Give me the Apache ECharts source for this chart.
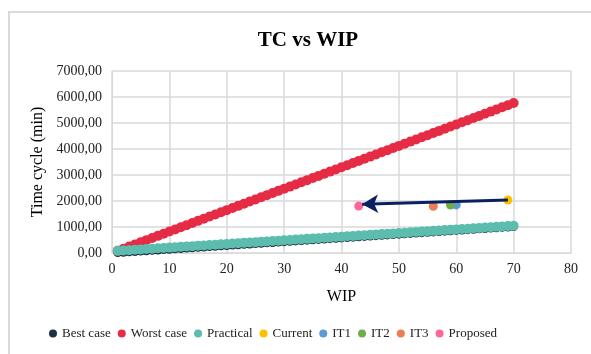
<!DOCTYPE html>
<html lang="en" style="height: 100%">

<head>
  <meta charset="utf-8">
</head>

<body style="height: 100%; margin: 0; background: #fff">
  <div id="frame" style="position:absolute;left:8px;top:11px;width:640px;height:400px;border:2px solid #d9d9d9;"></div>
  <div id="container" style="position:absolute;left:0;top:0;width:591px;height:354px"></div>

  <script type="text/javascript" src="https://fastly.jsdelivr.net/npm/echarts@6.0.0/dist/echarts.min.js"></script>
  <script type="text/javascript">
    // WIP levels 1..70
    var wip = [1, 2, 3, 4, 5, 6, 7, 8, 9, 10, 11, 12, 13, 14, 15, 16, 17, 18, 19, 20,
      21, 22, 23, 24, 25, 26, 27, 28, 29, 30, 31, 32, 33, 34, 35, 36, 37, 38, 39, 40,
      41, 42, 43, 44, 45, 46, 47, 48, 49, 50, 51, 52, 53, 54, 55, 56, 57, 58, 59, 60,
      61, 62, 63, 64, 65, 66, 67, 68, 69, 70];

    var bestCase = [15, 29, 44, 58, 73, 87, 102, 116, 131, 145, 160, 174, 189, 203, 218, 232, 247, 261, 276, 290,
      305, 319, 334, 348, 363, 377, 392, 406, 421, 435, 450, 464, 479, 493, 508, 522, 537, 551, 566, 580,
      595, 609, 624, 638, 653, 667, 682, 696, 711, 725, 740, 754, 769, 783, 798, 812, 827, 841, 856, 870,
      885, 899, 914, 928, 943, 957, 972, 986, 1001, 1015];

    var worstCase = [82, 165, 247, 330, 412, 494, 577, 659, 742, 824, 906, 989, 1071, 1154, 1236, 1318, 1401, 1483, 1566, 1648,
      1730, 1813, 1895, 1978, 2060, 2142, 2225, 2307, 2390, 2472, 2554, 2637, 2719, 2802, 2884, 2966, 3049, 3131, 3214, 3296,
      3378, 3461, 3543, 3626, 3708, 3790, 3873, 3955, 4038, 4120, 4202, 4285, 4367, 4450, 4532, 4614, 4697, 4779, 4862, 4944,
      5026, 5109, 5191, 5274, 5356, 5438, 5521, 5603, 5686, 5768];

    var practical = [82, 96, 110, 124, 138, 152, 166, 180, 194, 208, 222, 236, 250, 264, 278, 292, 306, 320, 334, 348,
      362, 376, 390, 404, 418, 432, 446, 460, 474, 488, 502, 516, 530, 544, 558, 572, 586, 600, 614, 628,
      642, 656, 670, 684, 698, 712, 726, 740, 754, 768, 782, 796, 810, 824, 838, 852, 866, 880, 894, 908,
      922, 936, 950, 964, 978, 992, 1006, 1020, 1034, 1048];

    // single scenario points [WIP, TC]
    var current = [69, 2040];
    var it1 = [60, 1850];
    var it2 = [59, 1845];
    var it3 = [56, 1800];
    var proposed = [43, 1805];

    // arrow from current to proposed
    var arrowFrom = [69, 2035];
    var arrowTo = [43.6, 1875];

    var serif = '"Liberation Serif", "DejaVu Serif", serif';

    function pairs(ys) {
      return ys.map(function (y, i) { return [wip[i], y]; });
    }

    var dom = document.getElementById('container');
    var myChart = echarts.init(dom, null, { renderer: 'canvas' });

    var option = {
      animation: false,
      title: {
        text: 'TC vs WIP',
        left: 303,
        textAlign: 'center',
        top: 25,
        textStyle: { fontFamily: serif, fontSize: 21, fontWeight: 'bold', color: '#000' }
      },
      legend: {
        bottom: 9,
        left: 44,
        itemGap: 7,
        itemWidth: 8,
        itemHeight: 8,
        icon: 'circle',
        textStyle: { fontFamily: serif, fontSize: 13, color: '#222' },
        data: ['Best case', 'Worst case', 'Practical', 'Current', 'IT1', 'IT2', 'IT3', 'Proposed']
      },
      grid: { left: 112, right: 20, top: 71, bottom: 101 },
      xAxis: {
        type: 'value',
        min: 0,
        max: 80,
        interval: 10,
        name: 'WIP',
        nameLocation: 'middle',
        nameGap: 36,
        nameTextStyle: { fontFamily: serif, fontSize: 16, color: '#000' },
        axisLine: { show: true, lineStyle: { color: '#d9d9d9', width: 1 } },
        axisTick: { show: false },
        axisLabel: { fontFamily: serif, fontSize: 14, color: '#222', margin: 9 },
        splitLine: { show: true, lineStyle: { color: '#d9d9d9', width: 1.5 } }
      },
      yAxis: {
        type: 'value',
        min: 0,
        max: 7000,
        interval: 1000,
        name: 'Time cycle (min)',
        nameLocation: 'middle',
        nameGap: 64,
        nameTextStyle: { fontFamily: serif, fontSize: 16, color: '#000' },
        axisLine: { show: true, lineStyle: { color: '#d9d9d9', width: 1 } },
        axisTick: { show: false },
        axisLabel: {
          fontFamily: serif, fontSize: 14, color: '#222', margin: 10,
          formatter: function (v) { return v.toFixed(2).replace('.', ','); }
        },
        splitLine: { show: true, lineStyle: { color: '#d9d9d9', width: 1.5 } }
      },
      series: [
        {
          name: 'Best case', type: 'scatter', symbolSize: 9,
          itemStyle: { color: '#1c3146', opacity: 1 },
          data: pairs(bestCase)
        },
        {
          name: 'Worst case', type: 'scatter', symbolSize: 10,
          itemStyle: { color: '#e62b45', opacity: 1 },
          data: pairs(worstCase)
        },
        {
          name: 'Practical', type: 'scatter', symbolSize: 10,
          itemStyle: { color: '#5cbdae', opacity: 1 },
          data: pairs(practical)
        },
        {
          name: 'Current', type: 'scatter', symbolSize: 9,
          itemStyle: { color: '#ffc000', opacity: 1 },
          data: [current],
          markLine: {
            silent: true,
            symbol: ['none', 'arrow'],
            symbolSize: [14, 16],
            label: { show: false },
            lineStyle: { color: '#0a2060', width: 3, type: 'solid' },
            data: [[{ coord: arrowFrom }, { coord: arrowTo }]]
          }
        },
        {
          name: 'IT1', type: 'scatter', symbolSize: 9,
          itemStyle: { color: '#5b9bd5', opacity: 1 },
          data: [it1]
        },
        {
          name: 'IT2', type: 'scatter', symbolSize: 9,
          itemStyle: { color: '#70ad47', opacity: 1 },
          data: [it2]
        },
        {
          name: 'IT3', type: 'scatter', symbolSize: 9,
          itemStyle: { color: '#ed7d55', opacity: 1 },
          data: [it3]
        },
        {
          name: 'Proposed', type: 'scatter', symbolSize: 9,
          itemStyle: { color: '#ff6699', opacity: 1 },
          data: [proposed]
        }
      ]
    };

    myChart.setOption(option);
    window.addEventListener('resize', myChart.resize);
  </script>
</body>

</html>
